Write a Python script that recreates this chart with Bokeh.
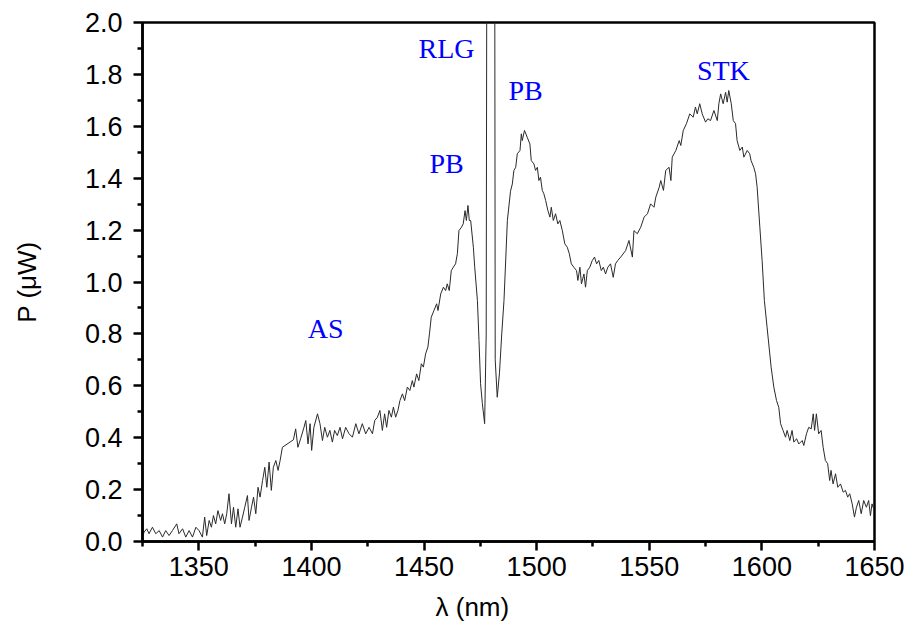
from bokeh.plotting import figure
from bokeh.models import FixedTicker, PrintfTickFormatter, ColumnDataSource, Range1d, Title
from bokeh.core.properties import value
from bokeh.embed import file_html
from bokeh.resources import INLINE

wavelength_nm = [
    1325.0, 1325.7, 1326.9, 1327.9, 1329.4, 1330.9, 1332.4, 1333.9, 1335.3, 1336.8,
    1338.3, 1340.2, 1341.2, 1342.8, 1344.2, 1345.7, 1347.2, 1348.7, 1350.1, 1351.6,
    1352.6, 1353.5, 1354.6, 1355.6, 1356.5, 1357.5, 1358.5, 1359.7, 1360.5, 1361.5,
    1362.4, 1363.4, 1364.5, 1365.4, 1366.4, 1367.4, 1368.3, 1369.4, 1370.4, 1371.6,
    1372.3, 1373.4, 1374.3, 1375.3, 1376.3, 1377.2, 1378.3, 1379.3, 1380.2, 1381.2,
    1382.2, 1383.1, 1384.2, 1385.2, 1386.1, 1387.1, 1392.0, 1393.0, 1394.0, 1395.2,
    1396.7, 1397.5, 1398.5, 1399.4, 1400.1, 1401.1, 1402.7, 1403.8, 1404.9, 1405.9,
    1407.1, 1408.2, 1409.3, 1410.3, 1411.5, 1412.7, 1413.8, 1415.2, 1416.7, 1418.2,
    1419.7, 1421.1, 1422.6, 1424.1, 1425.6, 1427.1, 1428.1, 1429.3, 1430.4, 1431.5,
    1432.5, 1433.4, 1434.4, 1435.5, 1436.4, 1437.4, 1438.4, 1439.3, 1440.4, 1441.4,
    1442.6, 1443.7, 1444.8, 1445.5, 1446.7, 1447.7, 1448.8, 1449.7, 1450.7, 1451.7,
    1452.4, 1453.2, 1454.4, 1455.6, 1456.2, 1457.4, 1458.6, 1459.6, 1460.3, 1461.2,
    1462.1, 1463.0, 1464.0, 1464.8, 1465.5, 1466.6, 1467.4, 1468.2, 1468.8, 1469.5,
    1470.1, 1470.7, 1471.9, 1472.5, 1473.7, 1474.4, 1475.1, 1475.9, 1476.9, 1477.6,
    1478.0, 1479.6, 1481.3, 1481.6, 1482.5, 1483.5, 1484.5, 1485.5, 1487.0, 1488.4,
    1489.2, 1489.9, 1490.7, 1491.4, 1492.6, 1493.2, 1493.6, 1494.6, 1495.8, 1497.0,
    1497.6, 1498.8, 1499.5, 1500.3, 1501.0, 1501.7, 1502.5, 1503.2, 1504.0, 1505.0,
    1505.9, 1506.5, 1507.4, 1508.4, 1509.4, 1510.3, 1511.4, 1512.5, 1513.6, 1514.5,
    1515.4, 1516.5, 1517.7, 1518.3, 1519.2, 1519.9, 1521.0, 1521.7, 1522.5, 1523.6,
    1524.7, 1525.7, 1526.6, 1527.6, 1528.7, 1529.6, 1530.6, 1531.6, 1532.8, 1534.0,
    1535.0, 1536.0, 1537.3, 1539.5, 1541.0, 1542.5, 1543.2, 1544.7, 1546.2, 1547.7,
    1549.2, 1550.6, 1552.1, 1552.9, 1554.4, 1555.1, 1556.3, 1557.3, 1558.8, 1559.6,
    1560.2, 1561.8, 1563.3, 1564.0, 1565.1, 1566.5, 1568.0, 1569.5, 1570.5, 1571.3,
    1572.4, 1573.5, 1575.0, 1576.0, 1577.2, 1578.7, 1580.2, 1580.9, 1581.7, 1582.8,
    1583.9, 1584.6, 1585.3, 1586.4, 1587.3, 1588.3, 1589.0, 1590.2, 1591.3, 1592.0,
    1593.5, 1594.6, 1595.2, 1596.4, 1597.2, 1597.9, 1599.1, 1600.1, 1601.1, 1602.3,
    1603.5, 1604.1, 1605.3, 1606.5, 1607.5, 1608.3, 1609.4, 1610.5, 1611.2, 1612.4,
    1613.4, 1614.2, 1615.4, 1616.4, 1617.9, 1618.6, 1619.8, 1620.8, 1621.9, 1622.8,
    1623.4, 1624.2, 1625.2, 1626.3, 1627.2, 1628.2, 1629.2, 1630.1, 1630.7, 1631.6,
    1632.7, 1633.7, 1634.9, 1636.1, 1637.1, 1638.1, 1639.0, 1640.1, 1641.1, 1642.0,
    1643.0, 1644.1, 1645.2, 1646.4, 1647.4, 1648.2, 1648.9, 1649.6,
]

power_uW = [
    0.017, 0.036, 0.049, 0.030, 0.055, 0.030, 0.042, 0.017, 0.042, 0.023,
    0.042, 0.068, 0.030, 0.049, 0.017, 0.042, 0.017, 0.055, 0.042, 0.017,
    0.094, 0.023, 0.081, 0.055, 0.100, 0.068, 0.119, 0.081, 0.107, 0.068,
    0.107, 0.184, 0.068, 0.132, 0.055, 0.126, 0.055, 0.094, 0.132, 0.177,
    0.081, 0.132, 0.171, 0.107, 0.209, 0.171, 0.235, 0.286, 0.209, 0.306,
    0.197, 0.286, 0.312, 0.274, 0.312, 0.363, 0.392, 0.434, 0.363, 0.396,
    0.440, 0.466, 0.376, 0.454, 0.351, 0.440, 0.492, 0.454, 0.389, 0.440,
    0.402, 0.428, 0.383, 0.428, 0.408, 0.440, 0.396, 0.440, 0.415, 0.402,
    0.454, 0.415, 0.454, 0.415, 0.440, 0.415, 0.466, 0.479, 0.505, 0.428,
    0.492, 0.440, 0.505, 0.479, 0.518, 0.479, 0.505, 0.543, 0.569, 0.543,
    0.595, 0.582, 0.620, 0.595, 0.646, 0.620, 0.685, 0.672, 0.723, 0.749,
    0.800, 0.864, 0.890, 0.916, 0.890, 0.954, 0.980, 0.967, 0.993, 0.967,
    1.044, 1.057, 1.070, 1.109, 1.198, 1.211, 1.224, 1.275, 1.237, 1.295,
    1.237, 1.237, 1.134, 1.057, 0.929, 0.775, 0.608, 0.531, 0.454, 0.800,
    3.000, 12.00, 3.000, 0.700, 0.556, 0.650, 0.800, 0.929, 1.237, 1.350,
    1.378, 1.430, 1.442, 1.494, 1.507, 1.571, 1.545, 1.584, 1.558, 1.532,
    1.468, 1.455, 1.430, 1.442, 1.391, 1.404, 1.353, 1.340, 1.314, 1.275,
    1.250, 1.288, 1.237, 1.263, 1.224, 1.237, 1.198, 1.147, 1.134, 1.109,
    1.070, 1.057, 1.044, 1.006, 1.057, 0.993, 1.031, 0.980, 1.044, 1.057,
    1.083, 1.096, 1.070, 1.083, 1.044, 1.057, 1.031, 1.057, 1.070, 1.018,
    1.070, 1.083, 1.096, 1.121, 1.160, 1.096, 1.198, 1.186, 1.211, 1.250,
    1.263, 1.301, 1.288, 1.327, 1.365, 1.391, 1.353, 1.430, 1.442, 1.391,
    1.481, 1.507, 1.545, 1.526, 1.584, 1.610, 1.648, 1.635, 1.674, 1.648,
    1.687, 1.648, 1.616, 1.629, 1.622, 1.661, 1.622, 1.687, 1.725, 1.687,
    1.731, 1.693, 1.738, 1.687, 1.622, 1.610, 1.545, 1.507, 1.520, 1.481,
    1.507, 1.494, 1.468, 1.442, 1.417, 1.365, 1.211, 1.083, 0.929, 0.826,
    0.723, 0.672, 0.595, 0.543, 0.517, 0.454, 0.428, 0.402, 0.428, 0.389,
    0.428, 0.383, 0.396, 0.376, 0.389, 0.370, 0.415, 0.440, 0.434, 0.492,
    0.428, 0.492, 0.415, 0.428, 0.363, 0.312, 0.300, 0.235, 0.274, 0.222,
    0.261, 0.209, 0.222, 0.190, 0.197, 0.171, 0.184, 0.145, 0.094, 0.132,
    0.158, 0.107, 0.158, 0.132, 0.158, 0.100, 0.145, 0.126,
]

label_texts = ["RLG", "PB", "PB", "STK", "AS"]
label_x = [1460.0, 1460.0, 1495.1, 1582.9, 1406.3]
label_y = [1.90, 1.457, 1.738, 1.815, 0.821]

x_major = [1350, 1400, 1450, 1500, 1550, 1600, 1650]
x_minor = [1325, 1375, 1425, 1475, 1525, 1575, 1625]
y_major = [0.0, 0.2, 0.4, 0.6, 0.8, 1.0, 1.2, 1.4, 1.6, 1.8, 2.0]
y_minor = [0.1, 0.3, 0.5, 0.7, 0.9, 1.1, 1.3, 1.5, 1.7, 1.9]

x_title = "λ (nm)"
y_title = "P (μW)"

p = figure(width=913, height=640, output_backend="svg", toolbar_location=None,
           x_range=Range1d(1325, 1650), y_range=Range1d(0, 2.0),
           min_border_left=142, min_border_right=39, min_border_top=22, min_border_bottom=99)

p.grid.visible = False
p.background_fill_color = "white"
p.border_fill_color = "white"
p.outline_line_color = "black"
p.outline_line_width = 2.5

src = ColumnDataSource(dict(x=wavelength_nm, y=power_uW))
p.line("x", "y", source=src, line_color="#2a2a2a", line_width=1)

lab = ColumnDataSource(dict(x=label_x, y=label_y, t=label_texts))
p.text("x", "y", text="t", source=lab, text_color="#0000ff", text_font=value("Liberation Serif"),
       text_font_size="28px", text_align="center", text_baseline="middle")

for ax in (p.xaxis[0], p.yaxis[0]):
    ax.axis_line_width = 2.5
    ax.axis_line_color = "black"
    ax.major_tick_line_width = 2.5
    ax.minor_tick_line_width = 2.5
    ax.major_tick_in = 0
    ax.major_tick_out = 9
    ax.minor_tick_in = 0
    ax.minor_tick_out = 5
    ax.major_label_text_font = "Liberation Sans"
    ax.major_label_text_font_size = "27px"
    ax.major_label_text_color = "black"
    ax.axis_label_text_font = "Liberation Sans"
    ax.axis_label_text_font_size = "26px"
    ax.axis_label_text_font_style = "normal"
    ax.axis_label_text_color = "black"

p.xaxis[0].ticker = FixedTicker(ticks=x_major, minor_ticks=x_minor)
p.yaxis[0].ticker = FixedTicker(ticks=y_major, minor_ticks=y_minor)
p.yaxis[0].formatter = PrintfTickFormatter(format="%.1f")
p.yaxis[0].axis_label = y_title
p.xaxis[0].major_label_standoff = 6
p.yaxis[0].major_label_standoff = 11
p.yaxis[0].axis_label_standoff = 40

# x axis title sits left of the frame centre in the reference
xt = Title(text=x_title, align="left", offset=293, standoff=22,
           text_font="Liberation Sans", text_font_size="26px", text_font_style="normal",
           text_color="black")
p.add_layout(xt, "below")

open("out.html", "w").write(file_html(p, INLINE))
